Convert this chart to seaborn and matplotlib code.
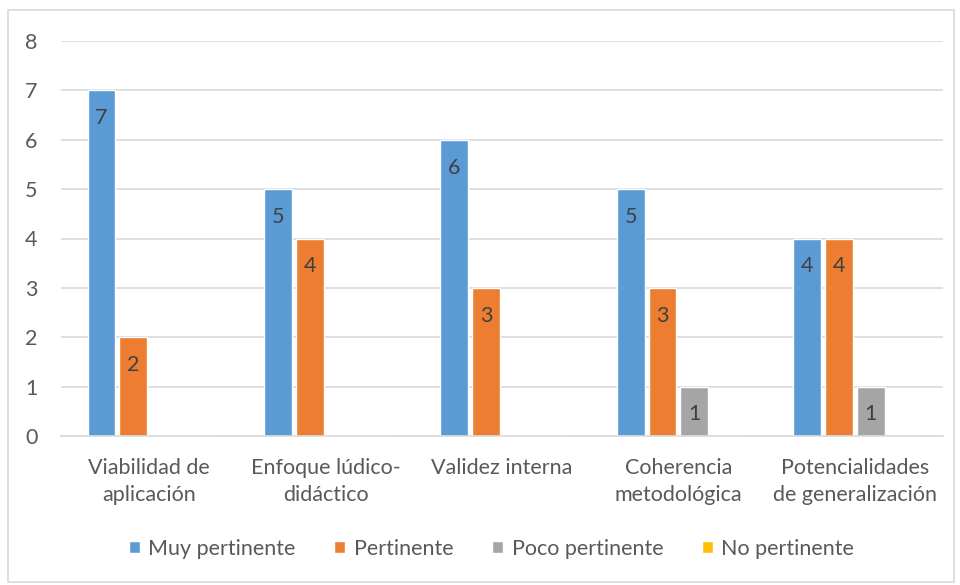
import pandas as pd
import matplotlib.pyplot as plt
import seaborn as sns
from matplotlib.patches import Rectangle

# data
criterios = ["Viabilidad de\naplicación", "Enfoque lúdico-\ndidáctico", "Validez interna",
             "Coherencia\nmetodológica", "Potencialidades\nde generalización"]
niveles = ["Muy pertinente", "Pertinente", "Poco pertinente", "No pertinente"]
muy_pertinente = [7, 5, 6, 5, 4]
pertinente = [2, 4, 3, 3, 4]
poco_pertinente = [0, 0, 0, 1, 1]
no_pertinente = [0, 0, 0, 0, 0]
colores = ["#5B9BD5", "#ED7D31", "#A5A5A5", "#FFC000"]


def build_frame():
    """Long-form table for seaborn"""
    series = [muy_pertinente, pertinente, poco_pertinente, no_pertinente]
    rows = []
    for nivel, vals in zip(niveles, series):
        for crit, v in zip(criterios, vals):
            rows.append({"criterio": crit, "nivel": nivel, "valor": v})
    return pd.DataFrame(rows)


def main():
    sns.set_style("white")
    plt.rcParams["font.family"] = ["Lato", "DejaVu Sans"]
    text_color = "#595959"
    fs = 15.5

    df = build_frame()
    fig = plt.figure(figsize=(9.6, 5.85), dpi=100)
    ax = fig.add_axes([61 / 960, 1 - 436 / 585, 882 / 960, 395 / 585])

    sns.barplot(data=df, x="criterio", y="valor", hue="nivel", hue_order=niveles,
                palette=colores, saturation=1, width=0.72, gap=0.125,
                errorbar=None, ax=ax, legend=True)

    # labels inside the bars, only for non-zero values
    for container in ax.containers:
        for b in container:
            h = b.get_height()
            if h > 0:
                ax.annotate(str(int(h)), (b.get_x() + b.get_width() / 2, h),
                            xytext=(0, -20), textcoords="offset points",
                            ha="center", va="center", fontsize=fs, color="#404040")

    ax.set_ylim(0, 8)
    ax.set_xlim(-0.5, 4.5)
    ax.set_yticks(range(0, 9))
    ax.yaxis.grid(True, color="#D9D9D9", linewidth=1.2)
    ax.set_axisbelow(True)
    ax.set_xlabel("")
    ax.set_ylabel("")
    for s in ["top", "right", "left"]:
        ax.spines[s].set_visible(False)
    ax.spines["bottom"].set_color("#D9D9D9")
    ax.spines["bottom"].set_linewidth(1.2)

    ax.tick_params(axis="y", length=0, pad=17, labelsize=fs, labelcolor=text_color)
    ax.tick_params(axis="x", which="major", length=0, pad=16, labelsize=fs, labelcolor=text_color)
    ax.set_xticks([i - 0.5 for i in range(6)], minor=True)
    ax.tick_params(axis="x", which="minor", length=6, width=1.2, color="#D9D9D9", direction="out")
    for t in ax.get_xticklabels():
        t.set_linespacing(1.45)

    handles, labs = ax.get_legend_handles_labels()
    ax.get_legend().remove()
    fig.legend(handles, labs, loc="center", bbox_to_anchor=(0.512, 1 - 549 / 585), ncol=4,
               frameon=False, fontsize=fs, labelcolor=text_color, handlelength=0.5,
               handleheight=0.5, handletextpad=0.4, columnspacing=1.8)

    # light border around the chart area
    fig.patches.append(Rectangle((8 / 960, 0.005), 1 - 14 / 960, 1 - 10 / 585 - 0.005,
                                 transform=fig.transFigure, fill=False,
                                 edgecolor="#D9D9D9", linewidth=1.2))

    fig.savefig("out.png", dpi=100)


if __name__ == "__main__":
    main()
